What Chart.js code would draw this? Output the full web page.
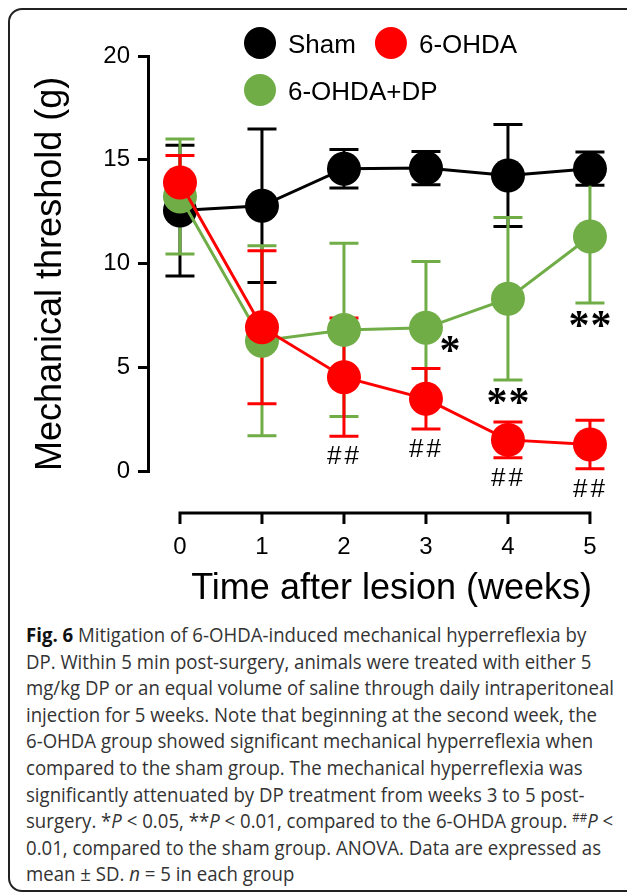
<!DOCTYPE html>
<html><head><meta charset="utf-8">
<script src="https://cdn.jsdelivr.net/npm/chart.js@4.4.1/dist/chart.umd.min.js"></script>
<style>
html,body{margin:0;padding:0;background:#fff;width:627px;height:896px;overflow:hidden;}
#card{position:absolute;left:8px;top:8px;width:660px;height:884px;border:2px solid #222;border-radius:14px;box-sizing:border-box;}
#wrap{position:absolute;left:0;top:0;width:627px;height:615px;}
#cap{position:absolute;left:26px;top:622px;font-family:"Open Sans",sans-serif;font-size:19.5px;color:#333;line-height:26.6px;transform-origin:0 0;}
#cap div{white-space:nowrap;}
#cap .ln{display:inline-block;}
#cap b{color:#111;}
#cap sup{font-size:0.62em;line-height:0;vertical-align:0.5em;}
</style></head><body>
<div id="card"></div>
<div id="wrap"><canvas id="c"></canvas></div>
<div id="cap">
<div><span class="ln"><b>Fig. 6</b> Mitigation of 6-OHDA-induced mechanical hyperreflexia by</span></div>
<div><span class="ln">DP. Within 5 min post-surgery, animals were treated with either 5</span></div>
<div><span class="ln">mg/kg DP or an equal volume of saline through daily intraperitoneal</span></div>
<div><span class="ln">injection for 5 weeks. Note that beginning at the second week, the</span></div>
<div><span class="ln">6-OHDA group showed significant mechanical hyperreflexia when</span></div>
<div><span class="ln">compared to the sham group. The mechanical hyperreflexia was</span></div>
<div><span class="ln">significantly attenuated by DP treatment from weeks 3 to 5 post-</span></div>
<div><span class="ln">surgery. *<i>P</i> &lt; 0.05, **<i>P</i> &lt; 0.01, compared to the 6-OHDA group. <sup>##</sup><i>P</i> &lt;</span></div>
<div><span class="ln">0.01, compared to the sham group. ANOVA. Data are expressed as</span></div>
<div><span class="ln">mean ± SD. <i>n</i> = 5 in each group</span></div>
</div>
<script>
// ---- data ----
const weeks = [0, 1, 2, 3, 4, 5];
const seriesNames = ['Sham', '6-OHDA', '6-OHDA+DP'];
const shamMean = [12.55, 12.78, 14.57, 14.6, 14.24, 14.57];
const shamSD   = [3.15, 3.7, 0.93, 0.8, 2.46, 0.8];
const ohdaMean = [13.9, 6.93, 4.52, 3.48, 1.5, 1.28];
const ohdaSD   = [1.3, 3.69, 2.85, 1.46, 0.86, 1.17];
const dpMean   = [13.23, 6.28, 6.8, 6.9, 8.3, 11.3];
const dpSD     = [2.77, 4.58, 4.17, 3.2, 3.92, 3.2];
const yTicks = [0, 5, 10, 15, 20];
const xTicks = [0, 1, 2, 3, 4, 5];
// significance marks: series index (into datasets), week, text
const annotSeries = [2, 2, 2, 1, 1, 1, 1];
const annotWeek   = [3, 4, 5, 2, 3, 4, 5];
const annotText   = ['*', '**', '**', '##', '##', '##', '##'];

const seriesColors = ['#000000', '#ff0000', '#70ad47'];
const FONT = '"Liberation Sans", Arial, Helvetica, sans-serif';
const STAR_FONT = 'bold 42px "Liberation Serif", "Times New Roman", serif';

function pts(m) { return weeks.map((w, i) => ({ x: w, y: m[i] })); }
const means = [shamMean, ohdaMean, dpMean];
const sds = [shamSD, ohdaSD, dpSD];
const orders = [3, 1, 2];

const datasets = seriesNames.map((name, k) => ({
  label: name,
  data: pts(means[k]),
  sd: sds[k],
  borderColor: seriesColors[k],
  backgroundColor: seriesColors[k],
  pointBackgroundColor: seriesColors[k],
  borderWidth: 3,
  pointRadius: 17,
  pointHoverRadius: 17,
  pointBorderWidth: 0,
  tension: 0,
  fill: false,
  clip: false,
  order: orders[k]
}));

const errorBars = {
  id: 'errorBars',
  beforeDatasetsDraw(chart) {
    const { ctx } = chart;
    const xs = chart.scales.x, ys = chart.scales.y;
    ctx.save();
    ctx.lineWidth = 3;
    ctx.lineCap = 'butt';
    [0, 2, 1].forEach(k => {
      const ds = chart.data.datasets[k];
      ctx.strokeStyle = ds.borderColor;
      ds.data.forEach((p, i) => {
        const x = xs.getPixelForValue(p.x);
        const yt = ys.getPixelForValue(p.y + ds.sd[i]);
        const yb = ys.getPixelForValue(p.y - ds.sd[i]);
        ctx.beginPath();
        ctx.moveTo(x, yt); ctx.lineTo(x, yb);
        ctx.moveTo(x - 14.5, yt); ctx.lineTo(x + 14.5, yt);
        ctx.moveTo(x - 14.5, yb); ctx.lineTo(x + 14.5, yb);
        ctx.stroke();
      });
    });
    ctx.restore();
  }
};

const xAxisLine = {
  id: 'xAxisLine',
  afterDraw(chart) {
    const { ctx, chartArea } = chart;
    const xs = chart.scales.x;
    const y = chartArea.bottom + 42;
    ctx.save();
    ctx.strokeStyle = '#000';
    ctx.lineWidth = 3;
    ctx.beginPath();
    ctx.moveTo(xs.getPixelForValue(xTicks[0]) - 1.5, y);
    ctx.lineTo(xs.getPixelForValue(xTicks[xTicks.length - 1]) + 1.5, y);
    xTicks.forEach(t => {
      const x = xs.getPixelForValue(t);
      ctx.moveTo(x, y); ctx.lineTo(x, y + 11);
    });
    ctx.stroke();
    ctx.restore();
  }
};

function drawCentered(ctx, text, cx, cy, spacing) {
  const chars = text.split('');
  const widths = chars.map(c => ctx.measureText(c).width);
  const total = widths.reduce((a, b) => a + b, 0) + spacing * (chars.length - 1);
  const m = ctx.measureText(text);
  const base = cy + (m.actualBoundingBoxAscent - m.actualBoundingBoxDescent) / 2;
  let x = cx - total / 2;
  chars.forEach((c, i) => { ctx.fillText(c, x, base); x += widths[i] + spacing; });
}

const sigMarks = {
  id: 'sigMarks',
  afterDraw(chart) {
    const { ctx } = chart;
    const xs = chart.scales.x, ys = chart.scales.y;
    ctx.save();
    ctx.fillStyle = '#000';
    ctx.textAlign = 'left';
    ctx.textBaseline = 'alphabetic';
    annotText.forEach((t, j) => {
      const ds = chart.data.datasets[annotSeries[j]];
      const i = weeks.indexOf(annotWeek[j]);
      const p = ds.data[i];
      const px = xs.getPixelForValue(p.x);
      if (t.indexOf('#') >= 0) {
        ctx.font = '26px ' + FONT;
        drawCentered(ctx, t, px - 1, ys.getPixelForValue(p.y - ds.sd[i]) + 19, 3);
      } else if (t.length === 1) {
        ctx.font = STAR_FONT;
        drawCentered(ctx, t, px + 24, ys.getPixelForValue(p.y) + 16, 0);
      } else {
        ctx.font = STAR_FONT;
        drawCentered(ctx, t, px, ys.getPixelForValue(p.y - ds.sd[i]) + 16, 1);
      }
    });
    ctx.restore();
  }
};

const customLegend = {
  id: 'customLegend',
  afterDraw(chart) {
    const { ctx } = chart;
    const ds = chart.data.datasets;
    ctx.save();
    ctx.font = '26px ' + FONT;
    ctx.textBaseline = 'alphabetic';
    ctx.textAlign = 'left';
    const r = 16;
    const item = (k, cx, cy) => {
      ctx.fillStyle = ds[k].backgroundColor;
      ctx.beginPath(); ctx.arc(cx, cy, r, 0, Math.PI * 2); ctx.fill();
      ctx.fillStyle = '#000';
      ctx.fillText(ds[k].label, cx + 28, cy + 10);
      return cx + 28 + ctx.measureText(ds[k].label).width;
    };
    const end0 = item(0, 260, 43);
    item(1, end0 + 35, 43);
    item(2, 260, 90);
    ctx.restore();
  }
};

new Chart(document.getElementById('c'), {
  type: 'line',
  data: { datasets },
  options: {
    responsive: true,
    maintainAspectRatio: false,
    animation: false,
    events: [],
    layout: { padding: { top: 56, left: 0, right: 35, bottom: 0 } },
    plugins: { legend: { display: false }, tooltip: { enabled: false } },
    scales: {
      x: {
        type: 'linear',
        min: -0.39,
        max: 5.025,
        afterBuildTicks: s => { s.ticks = xTicks.map(v => ({ value: v })); },
        afterFit: s => { s.height = 144; s.paddingLeft = 0; s.paddingRight = 0; },
        grid: { display: false, drawTicks: false, tickLength: 0 },
        border: { display: false },
        ticks: { autoSkip: false, maxRotation: 0, padding: 62, color: '#000', font: { family: FONT, size: 24 } },
        title: { display: true, align: 'end', text: 'Time after lesion (weeks)', color: '#000', font: { family: FONT, size: 36 }, padding: { top: 0, bottom: 4 } }
      },
      y: {
        type: 'linear',
        min: 0,
        max: 20,
        afterBuildTicks: s => { s.ticks = yTicks.map(v => ({ value: v })); },
        afterFit: s => { s.width = 148; },
        grid: { display: true, drawOnChartArea: false, drawTicks: true, tickLength: 10, lineWidth: 3, color: '#000' },
        border: { display: true, width: 3, color: '#000' },
        ticks: { padding: 8, color: '#000', font: { family: FONT, size: 24 } },
        title: { display: true, align: 'start', text: 'Mechanical threshold (g)', color: '#000', font: { family: FONT, size: 36 }, padding: { top: 29, bottom: 0 } }
      }
    }
  },
  plugins: [errorBars, xAxisLine, sigMarks, customLegend]
});

// fit caption lines to the reference column width (offsetWidth ignores transforms)
function fitCaption() {
  const lines = document.querySelectorAll('#cap .ln');
  const w = lines[2].offsetWidth;
  const s = 588 / w;
  document.getElementById('cap').style.transform = 'scaleX(' + s + ')';
}
fitCaption();
if (document.fonts && document.fonts.ready) document.fonts.ready.then(fitCaption);
</script>
</body></html>
